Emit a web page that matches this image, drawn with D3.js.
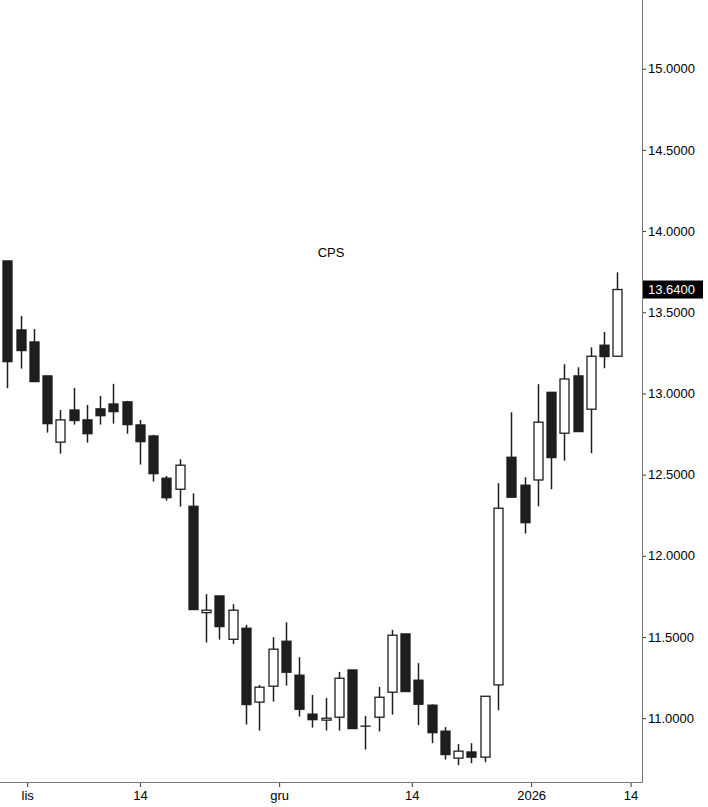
<!DOCTYPE html>
<html>
<head>
<meta charset="utf-8">
<script src="https://cdn.jsdelivr.net/npm/d3@7"></script>
<style>
  html, body { margin: 0; padding: 0; background: #fff; }
  svg { display: block; font-family: "Liberation Sans", Arial, sans-serif; }
</style>
</head>
<body>
<div id="chart"></div>
<script>
const title = 'CPS';

// trading days (GPW), one candle each
const dates = [
  '2025-10-30','2025-10-31','2025-11-03','2025-11-04','2025-11-05','2025-11-06','2025-11-07',
  '2025-11-10','2025-11-12','2025-11-13','2025-11-14','2025-11-17','2025-11-18','2025-11-19',
  '2025-11-20','2025-11-21','2025-11-24','2025-11-25','2025-11-26','2025-11-27','2025-11-28',
  '2025-12-01','2025-12-02','2025-12-03','2025-12-04','2025-12-05','2025-12-08','2025-12-09',
  '2025-12-10','2025-12-11','2025-12-12','2025-12-15','2025-12-16','2025-12-17','2025-12-18',
  '2025-12-19','2025-12-22','2025-12-23','2025-12-29','2025-12-30','2026-01-02','2026-01-05',
  '2026-01-07','2026-01-08','2026-01-09','2026-01-12','2026-01-13'
];

const opens = [
  13.816, 13.391, 13.317, 13.108, 12.700, 12.898, 12.837, 12.905, 12.935, 12.948, 12.806, 12.738,
  12.478, 12.410, 12.305, 11.650, 11.753, 11.486, 11.554, 11.099, 11.197, 11.474, 11.265, 11.025,
  10.988, 11.006, 11.297, 10.951, 11.006, 11.160, 11.519, 11.234, 11.080, 10.920, 10.754, 10.792,
  10.760, 11.205, 12.607, 12.435, 12.467, 13.007, 12.755, 13.108, 12.903, 13.297, 13.229
];
const highs = [
  13.816, 13.477, 13.397, 13.108, 12.898, 13.034, 12.929, 12.985, 13.059, 12.954, 12.837, 12.745,
  12.492, 12.595, 12.385, 11.764, 11.753, 11.702, 11.575, 11.205, 11.499, 11.591, 11.376, 11.143,
  11.125, 11.285, 11.297, 11.014, 11.193, 11.544, 11.519, 11.339, 11.086, 10.945, 10.840, 10.846,
  11.135, 12.447, 12.884, 12.484, 13.057, 13.007, 13.180, 13.161, 13.284, 13.379, 13.746
];
const lows = [
  13.032, 13.153, 13.073, 12.759, 12.629, 12.808, 12.697, 12.808, 12.814, 12.752, 12.562, 12.457,
  12.340, 12.303, 11.669, 11.466, 11.484, 11.456, 10.961, 10.924, 11.102, 11.201, 11.010, 10.942,
  10.924, 10.924, 10.936, 10.807, 10.918, 11.022, 11.164, 10.957, 10.846, 10.745, 10.711, 10.723,
  10.729, 11.049, 12.361, 12.137, 12.305, 12.410, 12.586, 12.765, 12.632, 13.155, 13.229
];
const closes = [
  13.196, 13.264, 13.073, 12.814, 12.837, 12.833, 12.752, 12.863, 12.888, 12.808, 12.703, 12.506,
  12.358, 12.558, 11.669, 11.665, 11.564, 11.665, 11.084, 11.191, 11.425, 11.283, 11.055, 10.991,
  11.000, 11.246, 10.936, 10.951, 11.129, 11.511, 11.164, 11.086, 10.911, 10.776, 10.797, 10.760,
  11.135, 12.293, 12.361, 12.204, 12.823, 12.605, 13.089, 12.765, 13.229, 13.227, 13.640
];

// x axis ticks: month starts at midnight, day ticks at midday
const tickTimes = ['2025-11-01 00:00', '2025-11-14 12:00', '2025-12-01 00:00',
                   '2025-12-14 12:00', '2026-01-01 00:00', '2026-01-14 12:00'];
const tickLabels = ['lis', '14', 'gru', '14', '2026', '14'];

const priceTicks = [11, 11.5, 12, 12.5, 13, 13.5, 14, 14.5, 15];

const width = 708, height = 807;
const plotRight = 642, plotBottom = 782;

const parseDay = d3.timeParse('%Y-%m-%d');
const parseTime = d3.timeParse('%Y-%m-%d %H:%M');
const DAY = 864e5;

const data = dates.map((d, i) => ({
  i: i, date: parseDay(d),
  open: opens[i], high: highs[i], low: lows[i], close: closes[i]
}));

// fractional candle index for a point in time; gaps collapse to candle boundaries
function timeToIndex(t) {
  const ts = +t;
  for(let k = 0; k < data.length; k++) {
    const start = +data[k].date;
    if(ts < start) return k - 0.5;
    if(ts < start + DAY) return k - 0.5 + (ts - start) / DAY;
  }
  const last = data.length - 1;
  return last + 0.5 + (ts - (+data[last].date + DAY)) / DAY;
}

const svg = d3.select('#chart').append('svg')
  .attr('width', width)
  .attr('height', height);

const x = d3.scaleLinear()
  .domain([-0.55, 47.86])
  .range([0, plotRight]);

const y = d3.scaleLinear()
  .domain([10.607, 15.423])
  .range([plotBottom, 0]);

const bodyW = 9;
const ink = '#1e1e1e';

// title
svg.append('text')
  .attr('x', 331)
  .attr('y', 257)
  .attr('text-anchor', 'middle')
  .attr('font-size', 13)
  .attr('fill', '#000')
  .text(title);

// candles
const candle = svg.append('g').selectAll('g')
  .data(data)
  .enter().append('g');

candle.append('line')
  .attr('x1', d => Math.round(x(d.i)) + 0.5)
  .attr('x2', d => Math.round(x(d.i)) + 0.5)
  .attr('y1', d => y(d.high))
  .attr('y2', d => y(d.low))
  .attr('stroke', ink)
  .attr('stroke-width', 1.5);

candle.append('rect')
  .attr('x', d => Math.round(x(d.i)) + 0.5 - bodyW / 2)
  .attr('y', d => y(Math.max(d.open, d.close)))
  .attr('width', bodyW)
  .attr('height', d => Math.max(0.01, Math.abs(y(d.open) - y(d.close))))
  .attr('fill', d => d.close >= d.open ? '#fff' : ink)
  .attr('stroke', ink)
  .attr('stroke-width', 1.3);

// right price axis
const yAxis = d3.axisRight(y)
  .tickValues(priceTicks)
  .tickFormat(d3.format('.4f'))
  .tickSize(4)
  .tickSizeOuter(0);

const gy = svg.append('g')
  .attr('transform', `translate(${plotRight},0)`)
  .call(yAxis);
gy.select('.domain').remove();
gy.selectAll('.tick line').attr('stroke', '#333');
gy.selectAll('.tick text')
  .attr('x', 6)
  .attr('font-size', 13)
  .attr('font-family', '"Liberation Sans", Arial, sans-serif')
  .attr('fill', '#000');

// bottom time axis
const xAxis = d3.axisBottom(x)
  .tickValues(tickTimes.map(t => timeToIndex(parseTime(t))))
  .tickFormat((d, k) => tickLabels[k])
  .tickSize(5)
  .tickSizeOuter(0);

const gx = svg.append('g')
  .attr('transform', `translate(0,${plotBottom})`)
  .call(xAxis);
gx.select('.domain').remove();
gx.selectAll('.tick line').attr('stroke', '#333');
gx.selectAll('.tick text')
  .attr('y', 9)
  .attr('font-size', 13)
  .attr('font-family', '"Liberation Sans", Arial, sans-serif')
  .attr('fill', '#000');

// frame lines
svg.append('line')
  .attr('x1', plotRight + 0.5).attr('x2', plotRight + 0.5)
  .attr('y1', 0).attr('y2', plotBottom + 0.5)
  .attr('stroke', '#777');
svg.append('line')
  .attr('x1', 0).attr('x2', plotRight + 0.5)
  .attr('y1', plotBottom + 0.5).attr('y2', plotBottom + 0.5)
  .attr('stroke', '#777');

// last price marker
const lastClose = closes[closes.length - 1];
const lastG = svg.append('g')
  .attr('transform', `translate(${plotRight + 1},${y(lastClose)})`);
lastG.append('rect')
  .attr('x', 0)
  .attr('y', -9)
  .attr('width', 60)
  .attr('height', 18)
  .attr('fill', '#000');
lastG.append('text')
  .attr('x', 5)
  .attr('dy', '0.35em')
  .attr('font-size', 13)
  .attr('fill', '#fff')
  .text(d3.format('.4f')(lastClose));
</script>
</body>
</html>
